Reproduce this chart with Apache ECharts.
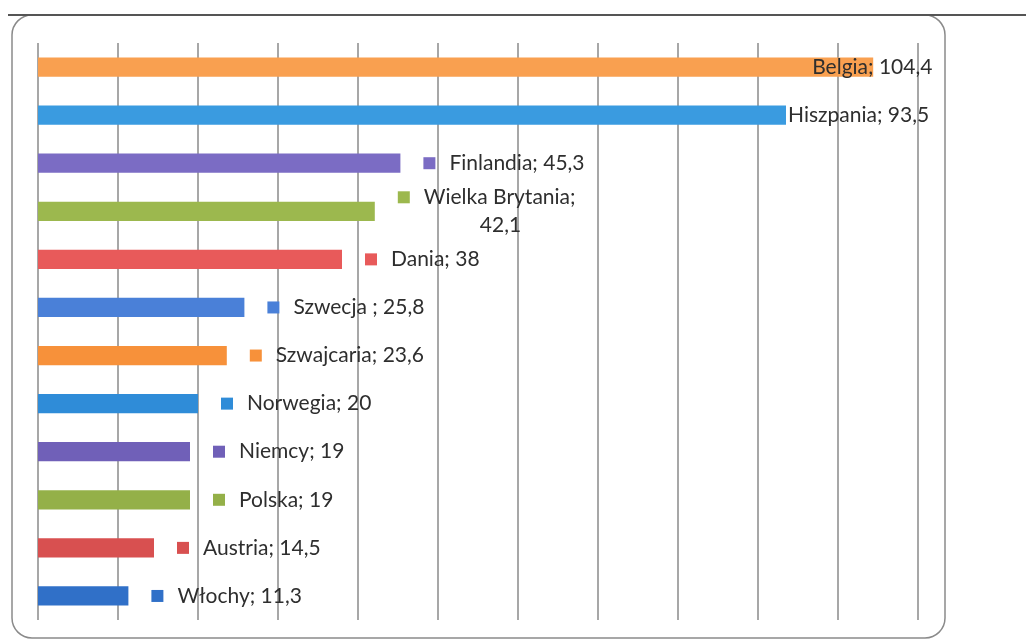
<!DOCTYPE html>
<html>
<head>
<meta charset="utf-8">
<script src="https://cdn.jsdelivr.net/npm/echarts@6/dist/echarts.min.js"></script>
<style>
html,body{margin:0;padding:0;background:#fff;}
#c{width:1026px;height:641px;}
</style>
</head>
<body>
<div id="c"></div>
<script>
const categories = ['Belgia','Hiszpania','Finlandia','Wielka Brytania','Dania','Szwecja ','Szwajcaria','Norwegia','Niemcy','Polska','Austria','Włochy'];
const values = [104.4, 93.5, 45.3, 42.1, 38, 25.8, 23.6, 20, 19, 19, 14.5, 11.3];
const colors = ['#F9A050','#3A9BE0','#7B6CC4','#9CB84E','#E85A5A','#4A80D8','#F7913A','#2F8CD8','#7060B8','#94B048','#D85050','#3070C8'];
const xTicks = {min: 0, max: 110, interval: 10};

const FONT = 'Lato';
const TXT = '#2e2e2e';
const FS = 21;
function fmt(v){ return String(v).replace('.', ','); }

const data = values.map((v, i) => {
  const c = colors[i];
  const name = categories[i];
  let label;
  if (i === 0) {
    label = {show:true, position:'right', distance:0, offset:[-61,0],
      formatter: name + '; ' + fmt(v),
      color: TXT, fontFamily: FONT, fontSize: FS};
  } else if (i === 1) {
    label = {show:true, position:'right', distance:2,
      formatter: name + '; ' + fmt(v),
      color: TXT, fontFamily: FONT, fontSize: FS};
  } else if (name === 'Wielka Brytania') {
    label = {show:true, position:'right', distance:23,
      formatter: '{sq|}{t|' + name + ';}\n{v|' + fmt(v) + '}',
      rich: {
        sq: {width:12, height:12, backgroundColor:c},
        t: {padding:[0,0,0,14], color:TXT, fontFamily:FONT, fontSize:FS, lineHeight:28},
        v: {padding:[0,0,0,82], color:TXT, fontFamily:FONT, fontSize:FS, lineHeight:28}
      }};
  } else {
    label = {show:true, position:'right', distance:23,
      formatter: '{sq|}{t|' + name + '; ' + fmt(v) + '}',
      rich: {
        sq: {width:12, height:12, backgroundColor:c},
        t: {padding:[0,0,0,14], color:TXT, fontFamily:FONT, fontSize:FS}
      }};
  }
  return {value: v, itemStyle: {color: c}, label: label};
});

const chart = echarts.init(document.getElementById('c'), null, {renderer:'canvas'});
chart.setOption({
  animation: false,
  backgroundColor: '#ffffff',
  grid: {left: 38, right: 108, top: 43, bottom: 21, containLabel: false},
  xAxis: {
    type: 'value', min: xTicks.min, max: xTicks.max, interval: xTicks.interval,
    axisLabel: {show:false}, axisLine: {show:false}, axisTick: {show:false},
    splitLine: {show:true, lineStyle: {color:'#8a8a8a', width:1.5}}
  },
  yAxis: {
    type: 'category', data: categories, inverse: true,
    axisLabel: {show:false}, axisLine: {show:false}, axisTick: {show:false},
    splitLine: {show:false}
  },
  series: [{
    type: 'bar', data: data, barCategoryGap: '60%'
  }],
  graphic: [
    {type:'rect', z:100, shape:{x:12, y:15, width:933, height:623, r:20},
     style:{fill:'none', stroke:'#8a8a8a', lineWidth:1.5}},
    {type:'line', z:101, shape:{x1:8, y1:15, x2:1026, y2:15},
     style:{stroke:'#555555', lineWidth:2}}
  ]
});
</script>
</body>
</html>
